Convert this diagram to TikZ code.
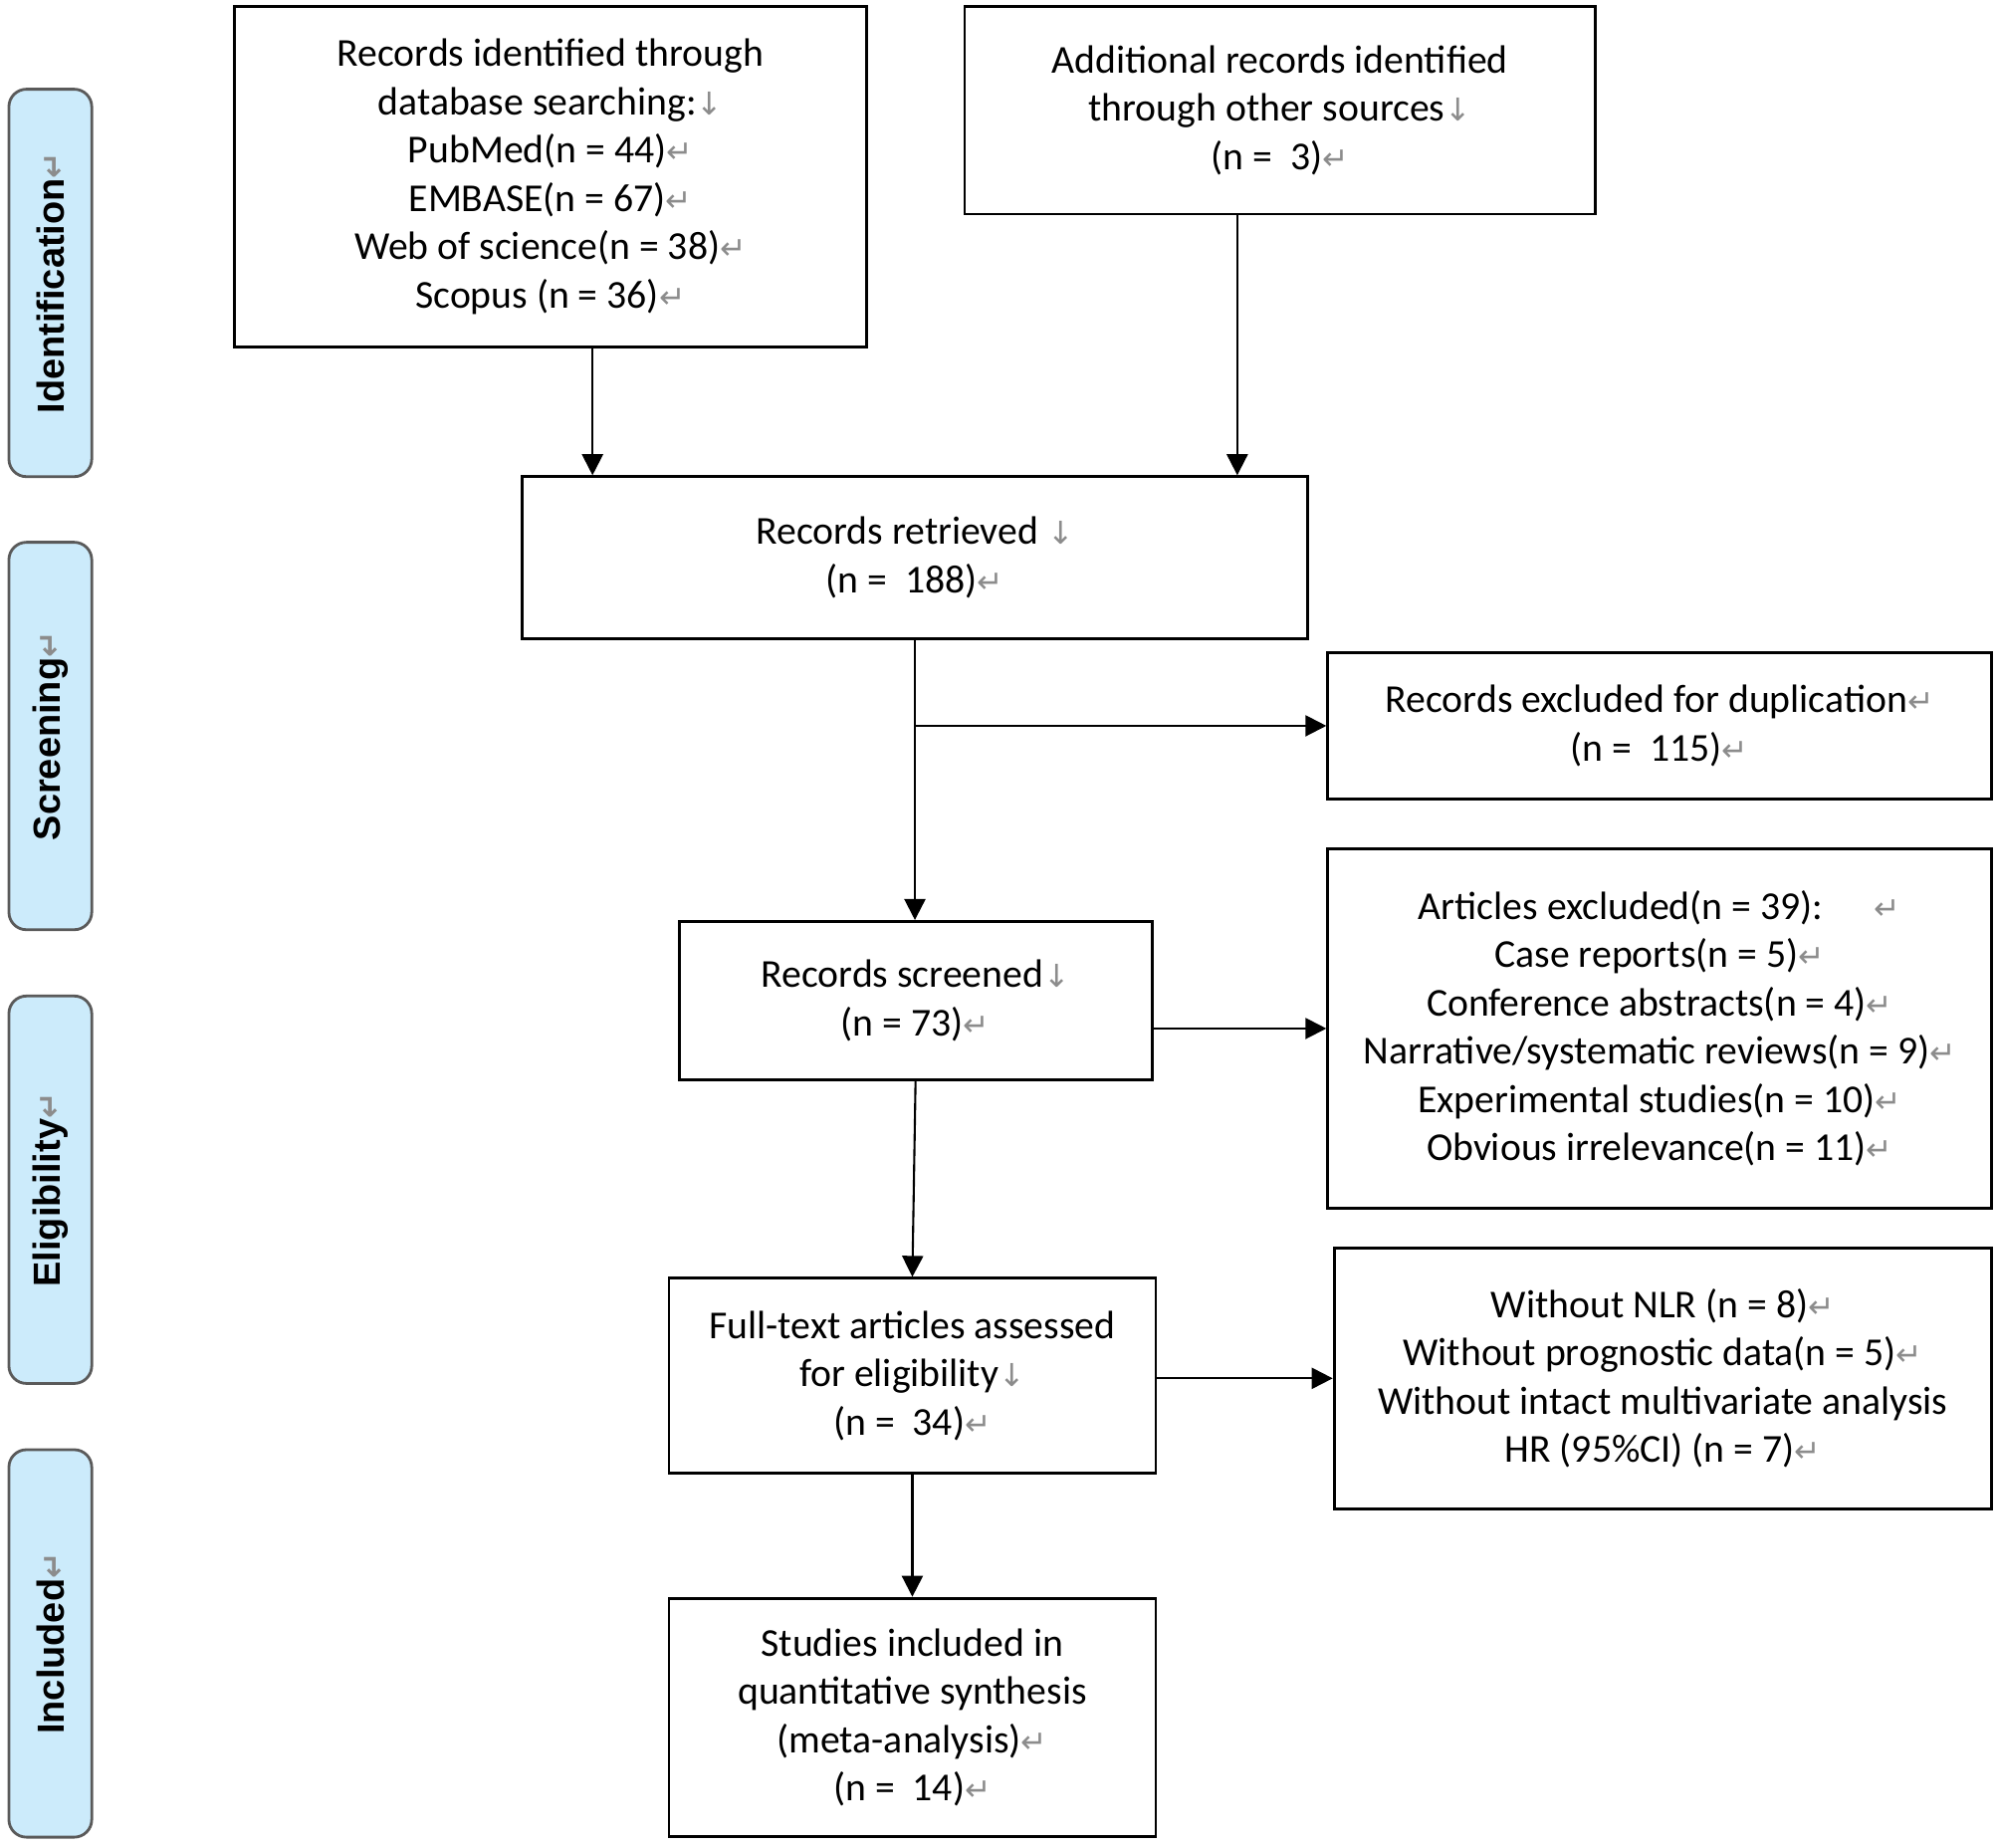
\documentclass[tikz,border=0pt]{standalone}
\usepackage{fontspec}
\setmainfont{Carlito}
\newfontfamily\lanefont{Liberation Sans}
\newfontfamily\symf{DejaVu Sans}
\usetikzlibrary{arrows.meta}
\definecolor{lanefill}{HTML}{CCEBFB}
\definecolor{laneborder}{HTML}{5A5A5A}
\definecolor{markgray}{HTML}{8C8C8C}
\newcommand\retm{{\symf\fontsize{9}{9}\selectfont\textcolor{markgray}{↵}}}
\newcommand\dnm{{\symf\fontsize{9}{9}\selectfont\textcolor{markgray}{↓}}}
\begin{document}
\begin{tikzpicture}[x=0.0128cm,y=-0.0128cm,
  box/.style={draw=black, line width=0.8pt, align=center, inner sep=0pt,
    font=\fontsize{11.3}{13.8}\selectfont},
  lane/.style={draw=laneborder, line width=0.8pt, fill=lanefill, rounded corners=5pt,
    minimum width=65*0.0128cm, minimum height=304*0.0128cm, inner sep=0pt},
  lanetext/.style={rotate=90, font=\lanefont\bfseries\fontsize{10.8}{12}\selectfont},
  arr/.style={draw=black, line width=0.6pt, -{Triangle[length=6pt,width=6pt]}},
  ln/.style={draw=black, line width=0.6pt}]
\useasboundingbox (0,0) rectangle (1568,1450);

% phase lanes
\node[lane] (L1) at (39.5,222) {};
\node[lanetext] (T1) at (L1.center) {Identification\retm};
\node[lane] (L2) at (39.5,577.5) {};
\node[lanetext] (T2) at (L2.center) {Screening\retm};
\node[lane] (L3) at (39.5,933.5) {};
\node[lanetext] (T3) at (L3.center) {Eligibility\retm};
\node[lane] (L4) at (39.5,1289.5) {};
\node[lanetext] (T4) at (L4.center) {Included\retm};

% boxes
\node[box, minimum width=496*0.0128cm, minimum height=267*0.0128cm] (A) at (432,138.5)
  {Records identified through\\ database searching:\dnm\\ PubMed(n = 44)\retm\\ EMBASE(n = 67)\retm\\ Web of science(n = 38)\retm\\ Scopus (n = 36)\retm};
\node[box, minimum width=495*0.0128cm, minimum height=163*0.0128cm] (B) at (1004.5,86.5)
  {Additional records identified\\ through other sources\dnm\\ (n = \ 3)\retm};
\node[box, minimum width=616*0.0128cm, minimum height=127*0.0128cm] (R) at (718,437.5)
  {Records retrieved \dnm\\ (n = \ 188)\retm};
\node[box, minimum width=521*0.0128cm, minimum height=115*0.0128cm] (D) at (1302.5,569.5)
  {Records excluded for duplication\retm\\ (n = \ 115)\retm};
\node[box, minimum width=371*0.0128cm, minimum height=124*0.0128cm] (S) at (718.5,785)
  {Records screened\dnm\\ (n = 73)\retm};
\node[box, minimum width=521*0.0128cm, minimum height=282*0.0128cm] (E) at (1302.5,807)
  {Articles excluded(n = 39): \quad\retm\\ Case reports(n = 5)\retm\\ Conference abstracts(n = 4)\retm\\ Narrative/systematic reviews(n = 9)\retm\\ Experimental studies(n = 10)\retm\\ Obvious irrelevance(n = 11)\retm};
\node[box, minimum width=382*0.0128cm, minimum height=153*0.0128cm] (F) at (716,1079.5)
  {Full-text articles assessed\\ for eligibility\dnm\\ (n = \ 34)\retm};
\node[box, minimum width=516*0.0128cm, minimum height=205*0.0128cm] (N) at (1305,1081.5)
  {Without NLR (n = 8)\retm\\ Without prognostic data(n = 5)\retm\\ Without intact multivariate analysis\\ HR (95\%CI) (n = 7)\retm};
\node[box, minimum width=382*0.0128cm, minimum height=187*0.0128cm] (I) at (716,1347.5)
  {Studies included in\\ quantitative synthesis\\ (meta-analysis)\retm\\ (n = \ 14)\retm};

% connectors
\coordinate (ax) at (465,0);
\coordinate (bx) at (971,0);
\draw[arr] (A.south -| ax) -- (R.north -| ax);
\draw[arr] (B.south -| bx) -- (R.north -| bx);
\draw[arr] (R.south) -- (R.south |- S.north);
\draw[arr] (R.south |- D.west) -- (D.west);
\draw[arr] (S.east |- E.west) -- (E.west);
\draw[arr] (S.south) -- (F.north);
\draw[arr] (F.east |- N.west) -- (N.west);
\draw[arr] (F.south) -- (I.north);
\end{tikzpicture}
\end{document}
